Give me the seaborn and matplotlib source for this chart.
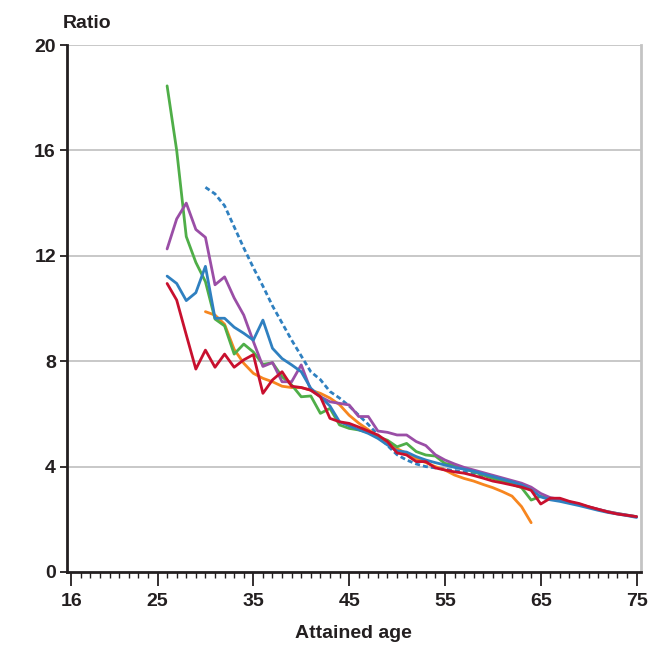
import numpy as np
import pandas as pd
import matplotlib
matplotlib.use("Agg")
import matplotlib.pyplot as plt
import seaborn as sns
from matplotlib.ticker import FixedLocator

# ---------------- data ----------------
ages_full = list(range(26, 76))
green = [18.45, 16.0, 12.73, 11.75, 11.02, 9.6, 9.34, 8.27, 8.65, 8.35,
         7.88, 7.94, 7.41, 7.1, 6.65, 6.68, 6.02, 6.21, 5.58, 5.45,
         5.39, 5.3, 5.13, 5.0, 4.75, 4.88, 4.57, 4.44, 4.4, 4.12,
         4.06, 3.92, 3.8, 3.68, 3.55, 3.45, 3.33, 3.2, 2.73, 2.87,
         2.8, 2.74, 2.65, 2.56, 2.47, 2.37, 2.29, 2.22, 2.16, 2.1]
blue = [11.23, 10.95, 10.3, 10.6, 11.6, 9.63, 9.63, 9.29, 9.06, 8.8,
        9.56, 8.49, 8.1, 7.86, 7.6, 6.97, 6.65, 6.3, 5.7, 5.55,
        5.4, 5.26, 5.07, 4.82, 4.6, 4.55, 4.38, 4.25, 4.15, 4.06,
        3.97, 3.9, 3.82, 3.72, 3.62, 3.52, 3.42, 3.3, 3.12, 2.85,
        2.74, 2.68, 2.6, 2.52, 2.43, 2.34, 2.26, 2.2, 2.14, 2.07]
purple = [12.26, 13.4, 14.0, 13.0, 12.7, 10.9, 11.2, 10.4, 9.75, 8.75,
          7.8, 7.95, 7.22, 7.22, 7.86, 6.9, 6.65, 6.46, 6.4, 6.34,
          5.9, 5.9, 5.35, 5.3, 5.2, 5.2, 4.95, 4.8, 4.45, 4.25,
          4.1, 3.97, 3.87, 3.77, 3.67, 3.57, 3.47, 3.37, 3.22, 2.98,
          2.82, 2.76, 2.66, 2.57, 2.47, 2.38, 2.29, 2.22, 2.16, 2.1]
red = [10.95, 10.32, 9.0, 7.7, 8.42, 7.77, 8.27, 7.77, 8.05, 8.25,
       6.78, 7.29, 7.6, 7.05, 7.0, 6.9, 6.65, 5.83, 5.7, 5.64,
       5.5, 5.35, 5.2, 4.95, 4.52, 4.44, 4.19, 4.19, 3.95, 3.87,
       3.8, 3.75, 3.66, 3.56, 3.45, 3.38, 3.3, 3.22, 3.1, 2.58,
       2.8, 2.8, 2.68, 2.6, 2.48, 2.38, 2.28, 2.2, 2.15, 2.1]
ages_orange = list(range(30, 65))
orange = [9.88, 9.75, 9.4, 8.45, 7.92, 7.54, 7.35, 7.22, 7.05, 7.0,
          7.0, 6.9, 6.78, 6.6, 6.35, 5.95, 5.65, 5.4, 5.15, 4.9,
          4.68, 4.5, 4.3, 4.15, 4.0, 3.87, 3.68, 3.55, 3.45, 3.32,
          3.2, 3.05, 2.88, 2.48, 1.87]
ages_dashed = list(range(30, 64))
dashed = [14.6, 14.35, 13.9, 13.1, 12.3, 11.55, 10.85, 10.1, 9.45, 8.8,
          8.2, 7.6, 7.3, 6.85, 6.6, 6.3, 5.95, 5.6, 5.2, 4.8,
          4.45, 4.25, 4.1, 4.0, 3.95, 3.9, 3.85, 3.8, 3.72, 3.65,
          3.58, 3.5, 3.42, 3.3]

x_ticks = [16, 25, 35, 45, 55, 65, 75]
y_ticks = [0, 4, 8, 12, 16, 20]

c_green = "#4fae48"
c_blue = "#2f80c0"
c_purple = "#9a4ea6"
c_red = "#c8102e"
c_orange = "#f7861f"

frames = []
for name, xs, ys in [("dashed", ages_dashed, dashed), ("orange", ages_orange, orange),
                     ("green", ages_full, green), ("purple", ages_full, purple),
                     ("blue", ages_full, blue), ("red", ages_full, red)]:
    frames.append(pd.DataFrame({"age": xs, "ratio": ys, "series": name}))
df = pd.concat(frames, ignore_index=True)

sns.set_style("white")
plt.rcParams["font.family"] = ["Liberation Sans", "DejaVu Sans"]
plt.rcParams["font.weight"] = "bold"

fig = plt.figure(figsize=(6.6, 6.45), dpi=100)
ax = fig.add_axes([0.1015, 0.1132, 0.8695, 0.8170])

styles = {
    "dashed": dict(color=c_blue, linestyle=(0, (1.8, 1.1)), lw=2.0),
    "orange": dict(color=c_orange, linestyle="-", lw=2.0),
    "green": dict(color=c_green, linestyle="-", lw=2.0),
    "purple": dict(color=c_purple, linestyle="-", lw=2.0),
    "blue": dict(color=c_blue, linestyle="-", lw=2.0),
    "red": dict(color=c_red, linestyle="-", lw=2.0),
}
for name, st in styles.items():
    sub = df[df["series"] == name]
    sns.lineplot(data=sub, x="age", y="ratio", ax=ax, color=st["color"],
                 linestyle=st["linestyle"], linewidth=st["lw"], sort=False,
                 estimator=None, legend=False)

ax.set_xlim(15.55, 75.45)
ax.set_ylim(0, 20)

for y in y_ticks[1:]:
    ax.axhline(y, color="#c4c4c4", lw=1.3, zorder=0)

ax.spines["top"].set_visible(False)
ax.spines["right"].set_color("#c4c4c4")
ax.spines["right"].set_linewidth(2.0)
for s in ["left", "bottom"]:
    ax.spines[s].set_color("#231f20")
    ax.spines[s].set_linewidth(2.0)

ax.xaxis.set_major_locator(FixedLocator(x_ticks))
ax.xaxis.set_minor_locator(FixedLocator(list(range(16, 76))))
ax.yaxis.set_major_locator(FixedLocator(y_ticks))
ax.tick_params(axis="x", which="major", direction="out", length=10, width=1.3,
               color="#231f20", labelsize=14, pad=5, bottom=True)
ax.tick_params(axis="x", which="minor", direction="out", length=4.5, width=1.0,
               color="#231f20", bottom=True)
ax.tick_params(axis="y", which="major", direction="out", length=5, width=1.3,
               color="#231f20", labelsize=14, pad=3, left=True)
ax.set_xticklabels([str(t) for t in x_ticks], fontweight="bold", color="#231f20")
ax.set_yticklabels([str(t) for t in y_ticks], fontweight="bold", color="#231f20")

ax.set_xlabel("Attained age", fontsize=14, fontweight="bold", color="#231f20", labelpad=11)
ax.set_ylabel("")
fig.text(63 / 660, 1 - 28 / 645, "Ratio", fontsize=14, fontweight="bold",
         color="#231f20", ha="left", va="baseline")

fig.savefig("out.png", dpi=100, facecolor="white")
